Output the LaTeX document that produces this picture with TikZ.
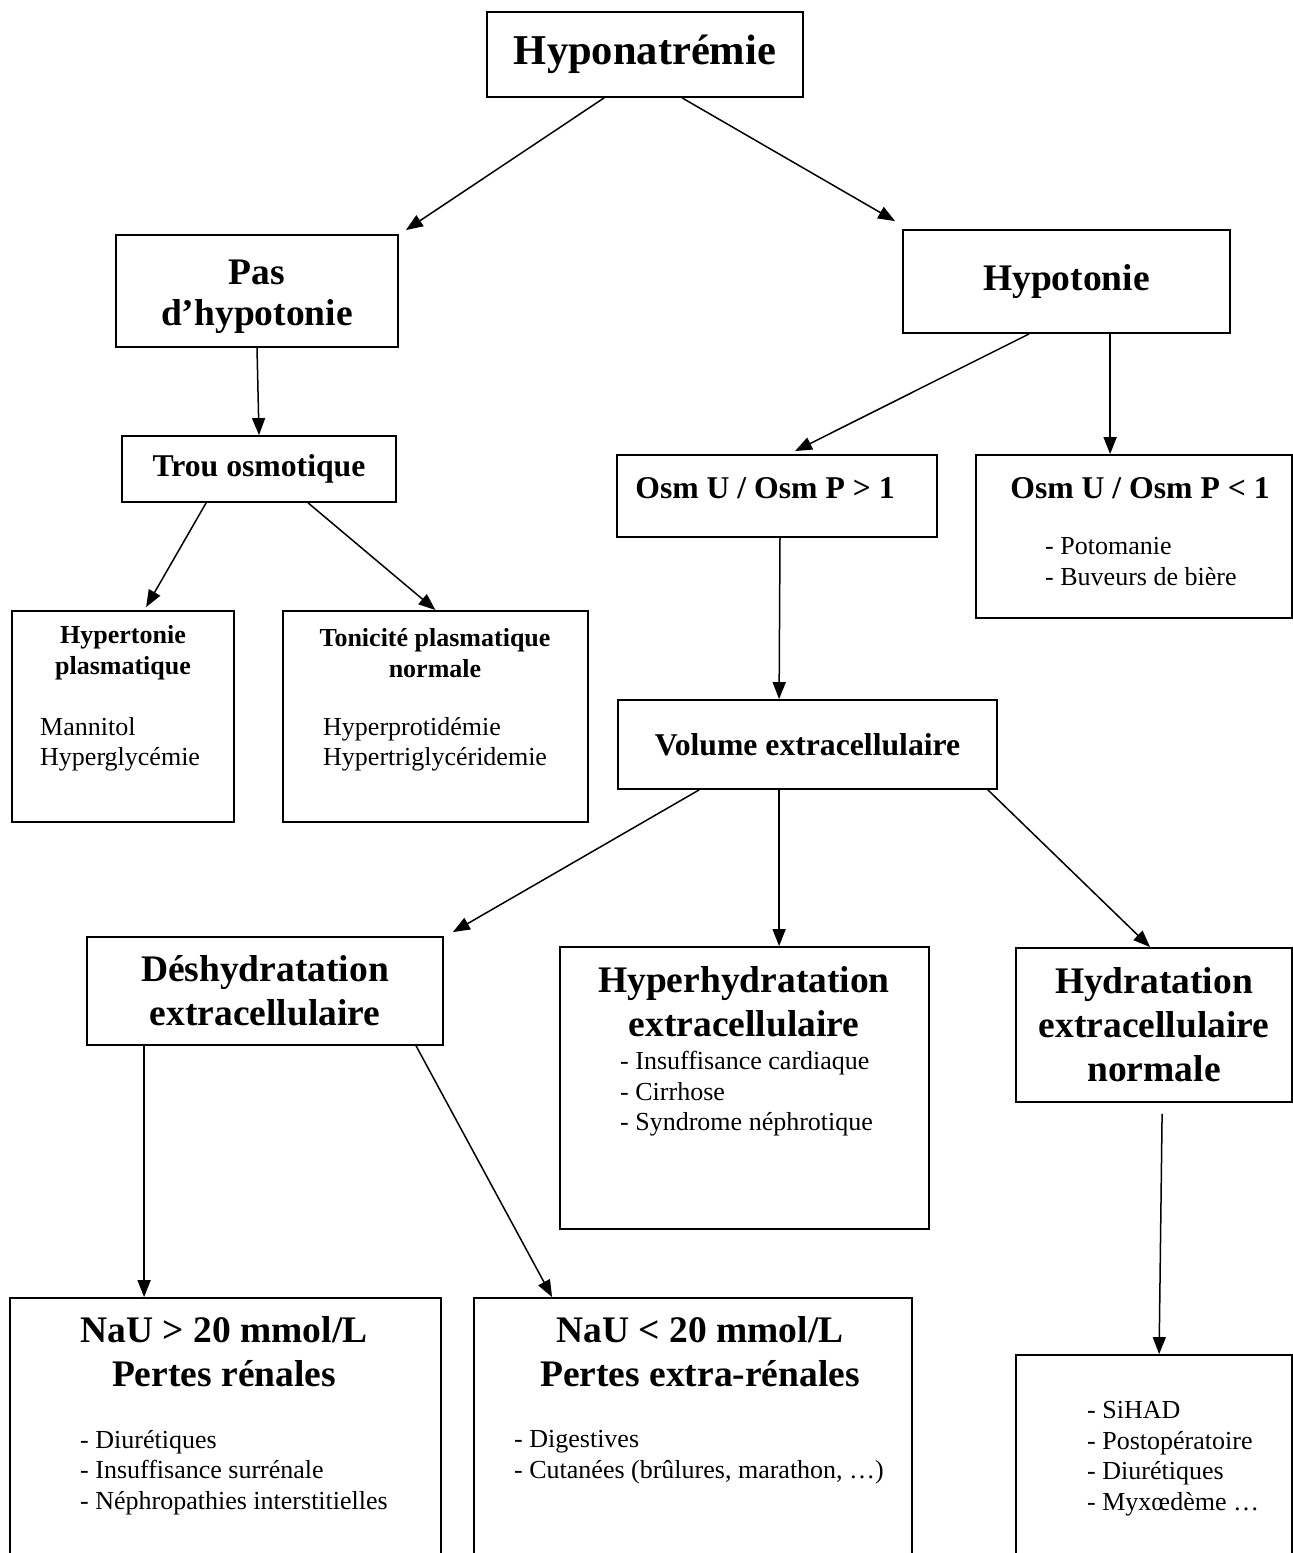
\documentclass[tikz,border=0pt]{standalone}
\usepackage{fontspec}
\setmainfont{Liberation Serif}
\usetikzlibrary{positioning,calc,arrows.meta}
\tikzstyle{box} = [draw, rectangle, line width=1.8pt, inner sep=0pt]
\tikzstyle{link} = [-{Triangle[length=17pt,width=13pt]}, draw, line width=1.5pt]
\tikzstyle{ttop} = [font=\bfseries\fontsize{42.5}{48}\selectfont]
\tikzstyle{tbig} = [align=center, font=\bfseries\fontsize{37.5}{44}\selectfont]
\tikzstyle{tmed} = [font=\bfseries\fontsize{31.7}{36}\selectfont]
\tikzstyle{tsmall} = [align=center, font=\bfseries\fontsize{26}{31}\selectfont, inner sep=0pt]
\tikzstyle{items} = [align=left, font=\fontsize{26}{30.7}\selectfont, inner sep=0pt, anchor=north west]

\begin{document}
\begin{tikzpicture}[x=1pt, y=-1pt]
    \useasboundingbox (0,0) rectangle (1293,1553);
    \clip (0,0) rectangle (1293,1553);

    % top of the tree
    \node[box, ttop, minimum width=316, minimum height=85] (hypo) at (645,54.5) {Hyponatrémie};
    \node[box, minimum width=282, minimum height=112] (pas) at (257,291) {};
    \node[tbig, font=\bfseries\fontsize{37.5}{41}\selectfont] (pas-t) at (257,297) {Pas\\d’hypotonie};
    \node[box, tbig, minimum width=327, minimum height=103] (hton) at (1066.5,281.5) {Hypotonie};

    % pas d'hypotonie
    \node[box, tmed, minimum width=274, minimum height=66] (trou) at (259,469) {Trou osmotique};
    \node[box, minimum width=222, minimum height=211] (hyper) at (123,716.5) {};
    \node[tsmall] (hyper-t) at (123,653) {Hypertonie\\plasmatique};
    \node[items] (hyper-l) at (40,717) {Mannitol\\Hyperglycémie};
    \node[box, minimum width=305, minimum height=211] (tonic) at (435.5,716.5) {};
    \node[tsmall] (tonic-t) at (435,653) {Tonicité plasmatique\\normale};
    \node[items] (tonic-l) at (323,717) {Hyperprotidémie\\Hypertriglycéridemie};

    % hypotonie
    \node[box, minimum width=320, minimum height=82] (osmgt) at (777,496) {};
    \node[tmed] (osmgt-t) at (765,488) {Osm U / Osm P > 1};
    \node[box, minimum width=316, minimum height=163] (osmlt) at (1134,536.5) {};
    \node[tmed] (osmlt-t) at (1140,488) {Osm U / Osm P < 1};
    \node[items] (osmlt-l) at (1045,537) {- Potomanie\\- Buveurs de bière};

    \node[box, tmed, minimum width=379, minimum height=89] (vol) at (807.5,744.5) {Volume extracellulaire};

    % volume extracellulaire
    \node[box, tbig, minimum width=356, minimum height=108] (desh) at (265,991) {Déshydratation\\extracellulaire};
    \node[box, minimum width=369, minimum height=282] (hyperh) at (744.5,1088) {};
    \node[tbig] (hyperh-t) at (744,1002) {Hyperhydratation\\extracellulaire};
    \node[items] (hyperh-l) at (620,1051) {- Insuffisance cardiaque\\- Cirrhose\\- Syndrome néphrotique};
    \node[box, tbig, minimum width=276, minimum height=154] (hydn) at (1154,1025) {Hydratation\\extracellulaire\\normale};

    % bas
    \node[box, minimum width=431, minimum height=272] (naugt) at (225.5,1434) {};
    \node[tbig] (naugt-t) at (224,1352) {NaU > 20 mmol/L\\Pertes rénales};
    \node[items] (naugt-l) at (80,1430) {- Diurétiques\\- Insuffisance surrénale\\- Néphropathies interstitielles};
    \node[box, minimum width=438, minimum height=272] (nault) at (693,1434) {};
    \node[tbig] (nault-t) at (700,1352) {NaU < 20 mmol/L\\Pertes extra-rénales};
    \node[items] (nault-l) at (514,1430) {- Digestives\\- Cutanées (brûlures, marathon, …)};
    \node[box, minimum width=276, minimum height=215] (autres) at (1154,1462.5) {};
    \node[items] (autres-l) at (1087,1401) {- SiHAD\\- Postopératoire\\- Diurétiques\\- Myxœdème …};

    % fleches
    \path[link] ($(hypo.south west)+(118,0)$) -- ($(pas.north east)+(7,-4)$);
    \path[link] ($(hypo.south west)+(196,0)$) -- ($(hton.north west)+(-7,-8)$);
    \path[link] (pas.south) -- (trou.north);
    \path[link] ($(hton.south west)+(127,0)$) -- ($(osmgt.north)+(18,-3)$);
    \path[link] ($(hton.south west)+(208,0)$) -- ($(osmlt.north west)+(135,0)$);
    \path[link] ($(trou.south west)+(85,0)$) -- ($(hyper.north west)+(135,-3)$);
    \path[link] ($(trou.south west)+(187,0)$) -- (tonic.north);
    \path[link] ($(osmgt.south)+(3,0)$) -- ($(vol.north west)+(162,0)$);
    \path[link] ($(vol.south west)+(82,0)$) -- ($(desh.north east)+(9,-4)$);
    \path[link] ($(vol.south west)+(162,0)$) -- ($(hyperh.north west)+(220,0)$);
    \path[link] ($(vol.south east)+(-10,0)$) -- ($(hydn.north west)+(135,0)$);
    \path[link] ($(desh.south west)+(58,0)$) -- ($(naugt.north west)+(135,0)$);
    \path[link] ($(desh.south west)+(330,0)$) -- ($(nault.north west)+(79,0)$);
    \path[link] ($(hydn.south west)+(147,11)$) -- ($(autres.north west)+(144,0)$);
\end{tikzpicture}
\end{document}
